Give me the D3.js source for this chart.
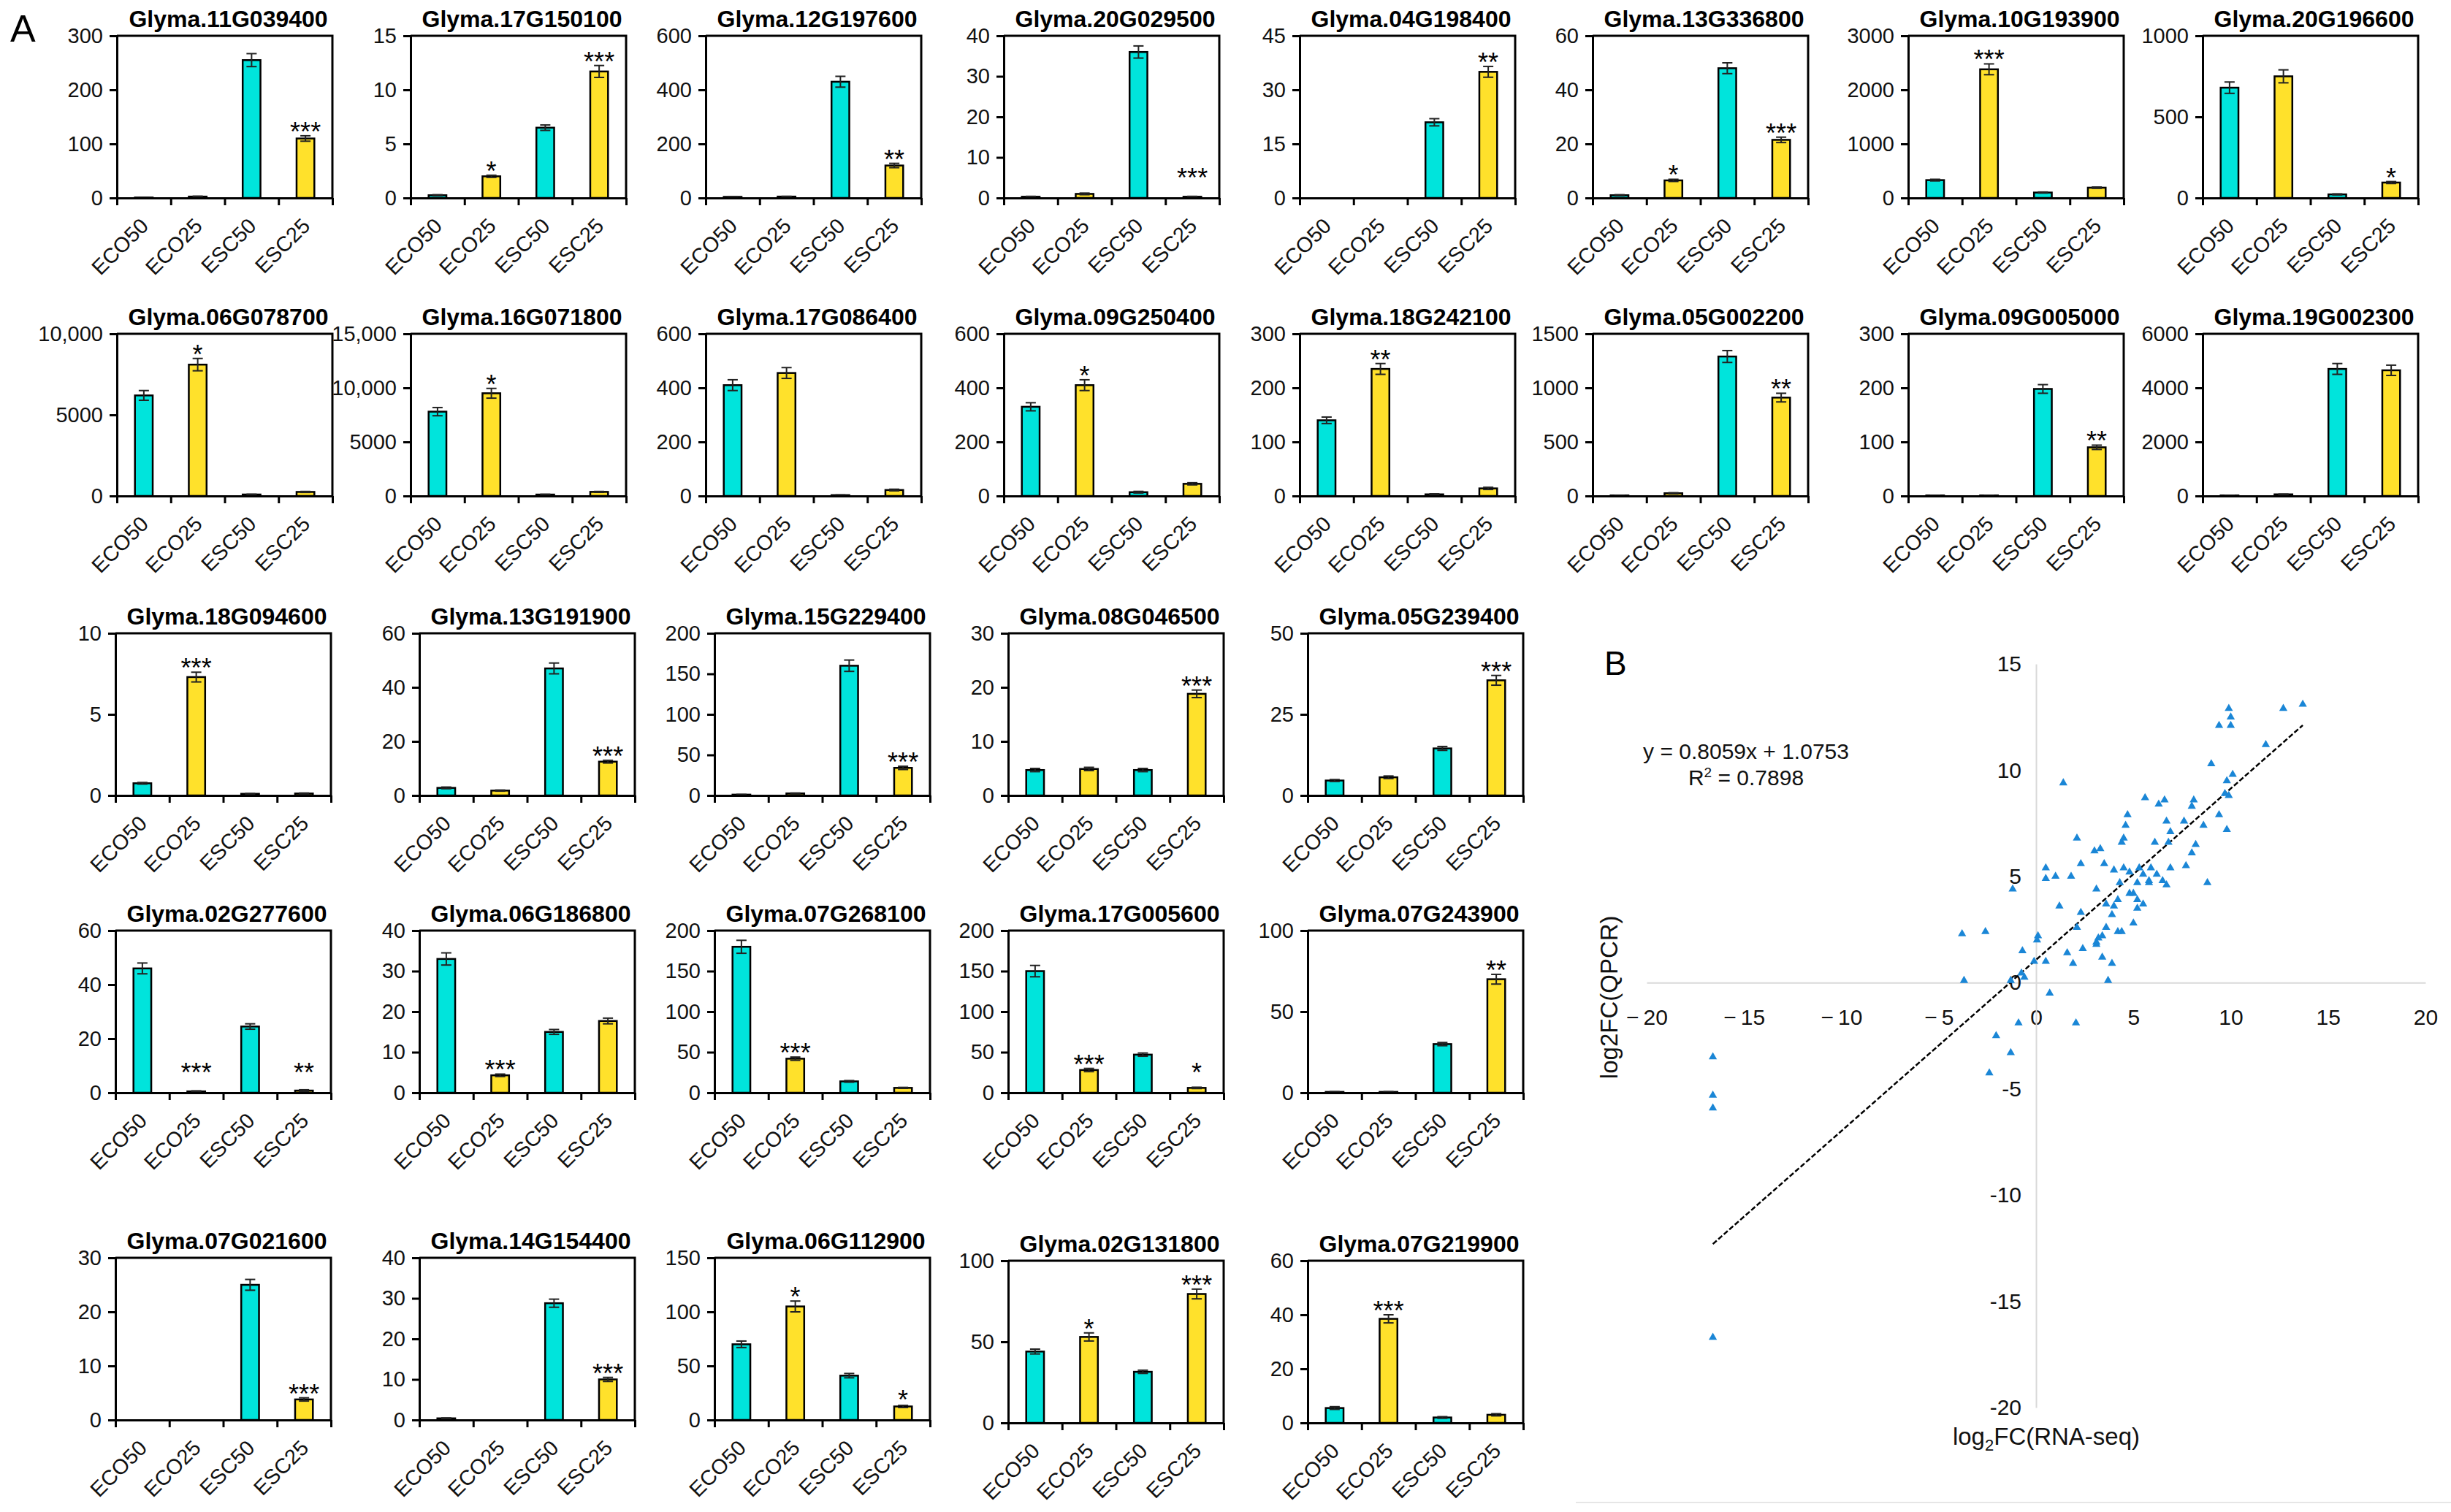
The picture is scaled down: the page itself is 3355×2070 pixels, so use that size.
<!DOCTYPE html>
<html>
<head>
<meta charset="utf-8">
<script src="https://cdn.jsdelivr.net/npm/d3@7"></script>
<style>
  body { margin: 0; background: #fff; }
  svg text { font-family: Arial, "Liberation Sans", sans-serif; }
</style>
</head>
<body>
<svg id="fig"></svg>
<script>
// ---- data ----
const conditions = ["ECO50", "ECO25", "ESC50", "ESC25"];

const genes = [
  "Glyma.11G039400", "Glyma.17G150100", "Glyma.12G197600", "Glyma.20G029500",
  "Glyma.04G198400", "Glyma.13G336800", "Glyma.10G193900", "Glyma.20G196600",
  "Glyma.06G078700", "Glyma.16G071800", "Glyma.17G086400", "Glyma.09G250400",
  "Glyma.18G242100", "Glyma.05G002200", "Glyma.09G005000", "Glyma.19G002300",
  "Glyma.18G094600", "Glyma.13G191900", "Glyma.15G229400", "Glyma.08G046500", "Glyma.05G239400",
  "Glyma.02G277600", "Glyma.06G186800", "Glyma.07G268100", "Glyma.17G005600", "Glyma.07G243900",
  "Glyma.07G021600", "Glyma.14G154400", "Glyma.06G112900", "Glyma.02G131800", "Glyma.07G219900"
];

const yMax = [300, 15, 600, 40, 45, 60, 3000, 1000,
  10000, 15000, 600, 600, 300, 1500, 300, 6000,
  10, 60, 200, 30, 50,
  60, 40, 200, 200, 100,
  30, 40, 150, 100, 60];

const yTicks = [
  [0, 100, 200, 300], [0, 5, 10, 15], [0, 200, 400, 600], [0, 10, 20, 30, 40],
  [0, 15, 30, 45], [0, 20, 40, 60], [0, 1000, 2000, 3000], [0, 500, 1000],
  [0, 5000, 10000], [0, 5000, 10000, 15000], [0, 200, 400, 600], [0, 200, 400, 600],
  [0, 100, 200, 300], [0, 500, 1000, 1500], [0, 100, 200, 300], [0, 2000, 4000, 6000],
  [0, 5, 10], [0, 20, 40, 60], [0, 50, 100, 150, 200], [0, 10, 20, 30], [0, 25, 50],
  [0, 20, 40, 60], [0, 10, 20, 30, 40], [0, 50, 100, 150, 200], [0, 50, 100, 150, 200], [0, 50, 100],
  [0, 10, 20, 30], [0, 10, 20, 30, 40], [0, 50, 100, 150], [0, 50, 100], [0, 20, 40, 60]
];

// mean expression per condition (ECO50, ECO25, ESC50, ESC25)
const means = [
  [0.8, 2.5, 255, 110], [0.25, 2.0, 6.5, 11.7], [4, 5, 430, 120], [0.3, 1.0, 36, 0.3],
  [0, 0, 21, 35], [1, 6.5, 48, 21.5], [330, 2380, 100, 190], [680, 750, 22, 95],
  [6200, 8100, 90, 250], [7800, 9500, 130, 380], [410, 455, 3, 22], [330, 410, 14, 45],
  [140, 235, 3, 14], [5, 25, 1290, 910], [1, 1, 198, 90], [20, 60, 4700, 4650],
  [0.75, 7.3, 0.1, 0.12], [2.8, 1.8, 47, 12.5], [1, 2.5, 160, 34], [4.7, 4.9, 4.7, 18.8], [4.6, 5.6, 14.5, 35.5],
  [46, 0.5, 24.5, 0.8], [33, 4.3, 15, 17.7], [180, 42, 14, 6], [150, 28, 47, 6], [0.5, 0.5, 30, 70],
  [0, 0, 25, 3.8], [0.4, 0, 28.8, 10], [70, 105, 41, 12.5], [44, 53, 31.5, 79.5], [5.5, 38.5, 2, 3]
];

const errs = [
  [0.3, 0.8, 12, 5], [0.05, 0.1, 0.25, 0.55], [1, 1, 20, 8], [0.1, 0.2, 1.5, 0.1],
  [0, 0, 1, 1.5], [0.2, 0.4, 2, 1], [15, 100, 10, 12], [35, 40, 3, 6],
  [300, 380, 20, 30], [380, 450, 30, 40], [20, 20, 1, 3], [15, 20, 3, 4],
  [6, 10, 1, 2], [2, 5, 55, 40], [0.3, 0.3, 8, 4], [5, 10, 200, 190],
  [0.05, 0.3, 0.02, 0.03], [0.3, 0.2, 2, 0.5], [0.3, 0.5, 7, 2], [0.3, 0.3, 0.3, 0.7], [0.3, 0.4, 0.6, 1.5],
  [2, 0.2, 1, 0.3], [1.5, 0.3, 0.6, 0.7], [8, 2, 1, 0.6], [7, 2, 2, 0.8], [0.2, 0.2, 1, 3],
  [0, 0, 1, 0.3], [0.1, 0, 1, 0.5], [3, 5, 2, 1], [1.5, 2.5, 1, 3], [0.5, 1.5, 0.3, 0.4]
];

const stars = [
  ["", "", "", "***"], ["", "*", "", "***"], ["", "", "", "**"], ["", "", "", "***"],
  ["", "", "", "**"], ["", "*", "", "***"], ["", "***", "", ""], ["", "", "", "*"],
  ["", "*", "", ""], ["", "*", "", ""], ["", "", "", ""], ["", "*", "", ""],
  ["", "**", "", ""], ["", "", "", "**"], ["", "", "", "**"], ["", "", "", ""],
  ["", "***", "", ""], ["", "", "", "***"], ["", "", "", "***"], ["", "", "", "***"], ["", "", "", "***"],
  ["", "***", "", "**"], ["", "***", "", ""], ["", "***", "", ""], ["", "***", "", "*"], ["", "", "", "**"],
  ["", "", "", "***"], ["", "", "", "***"], ["", "*", "", "*"], ["", "*", "", "***"], ["", "***", "", ""]
];

// panel B: log2 fold changes
const rnaSeqFC = [13.7, 12.7, 9.9, 10.0, 9.4, 10.0, 11.8, 9.0, 10.1, 9.8,
  1.4, 9.7, 9.9, 5.6, 6.6, 8.1, 6.3, 8.0, 9.4, 4.7,
  6.7, 7.6, 8.6, 4.6, 9.8, 6.9, 4.5, 2.1, 4.4, 6.1,
  6.8, 8.2, 3.3, 3.0, 8.0, 2.3, 3.5, 7.7, 0.5, 4.0,
  4.5, 5.3, 5.9, 6.9, 4.8, 5.5, 6.2, 1.8, 1.0, 0.5,
  5.8, 6.5, 8.8, 4.3, 5.2, 5.8, 6.7, -1.2, 3.1, 4.8,
  5.0, 4.2, 5.2, 5.5, 1.2, 3.6, 4.0, 5.2, 2.3, 3.9,
  5.0, 2.1, 3.6, -3.8, -2.6, 4.2, 4.4, 3.4, 0.1, 0.05,
  3.2, 3.1, 3.1, 2.4, 1.6, -0.7, 3.4, 3.9, 1.9, 0.5,
  -0.1, -0.75, -0.6, -3.7, 3.7, -1.3, 0.7, -0.9, 2.05, -2.05,
  -1.3, -2.4, -16.6, -16.6, -16.6, -16.6];
const qpcrFC = [13.1, 12.9, 12.9, 12.5, 12.1, 12.1, 11.2, 10.3, 9.8, 9.5,
  9.4, 8.9, 8.8, 8.7, 8.6, 8.6, 8.4, 8.3, 7.9, 7.9,
  7.6, 7.6, 7.4, 7.4, 7.2, 7.1, 6.8, 6.8, 6.6, 6.6,
  6.6, 6.5, 6.3, 6.2, 6.1, 5.6, 5.6, 5.5, 5.4, 5.3,
  5.4, 5.4, 5.4, 5.4, 5.2, 5.1, 5.1, 5.0, 5.0, 4.9,
  4.8, 4.8, 4.7, 4.7, 4.7, 4.7, 4.6, 4.4, 4.4, 4.2,
  4.2, 3.9, 3.9, 3.7, 3.6, 3.7, 3.6, 3.5, 3.3, 3.2,
  2.8, 2.6, 2.6, 2.3, 2.4, 2.4, 2.4, 2.2, 2.2, 2.0,
  2.1, 1.9, 1.8, 1.6, 1.4, 1.5, 1.2, 0.9, 0.9, 1.0,
  1.0, 0.45, 0.25, 0.1, 0.1, 0.1, -0.5, -1.9, -1.9, -2.5,
  -3.3, -4.25, -3.5, -5.3, -5.9, -16.7];
const fitSlope = 0.8059, fitIntercept = 1.0753;
const fitRange = [-16.6, 13.7];
const xTicksB = [-20, -15, -10, -5, 0, 5, 10, 15, 20];
const yTicksB = [-20, -15, -10, -5, 0, 5, 10, 15];

// ---- layout ----
const W = 3355, H = 2070;
const cyan = "#00e4dc", yellow = "#ffe12b";
const barColors = [cyan, yellow, cyan, yellow];
const plotW = 295, plotH = 222;
const colLeftTop = [160, 562, 966, 1374, 1779, 2180, 2612, 3015];
const colLeftBottom = [158, 574, 978, 1380, 1790];
const rowTop = [49, 457, 867, 1274, 1722];

const svg = d3.select("#fig").attr("width", W).attr("height", H);
svg.append("rect").attr("width", W).attr("height", H).attr("fill", "#fff");

const tickFmt = v => v >= 10000 ? d3.format(",")(v) : String(v);

function panelPos(i) {
  if (i < 16) return [colLeftTop[i % 8], rowTop[Math.floor(i / 8)]];
  const k = i - 16;
  const shift = (i >= 29) ? 4 : 0;   // last two panels sit a touch lower
  return [colLeftBottom[k % 5], rowTop[2 + Math.floor(k / 5)] + shift];
}

genes.forEach((gene, i) => {
  const [px, py] = panelPos(i);
  const g = svg.append("g").attr("transform", `translate(${px},${py})`);

  const x = d3.scaleBand().domain(conditions).range([0, plotW]);
  const y = d3.scaleLinear().domain([0, yMax[i]]).range([plotH, 0]);
  const edges = d3.scaleLinear().domain([0, conditions.length]).range([0, plotW]);

  // top and right frame
  g.append("path")
    .attr("d", `M0,0H${plotW}V${plotH}`)
    .attr("fill", "none").attr("stroke", "#000").attr("stroke-width", 3);

  const rows = conditions.map((c, j) => ({
    c, v: means[i][j], e: errs[i][j], s: stars[i][j], color: barColors[j]
  }));
  const bw = x.bandwidth() * 0.33;

  g.selectAll(".bar").data(rows).enter().append("rect")
    .attr("x", d => x(d.c) + (x.bandwidth() - bw) / 2)
    .attr("y", d => y(d.v))
    .attr("width", bw)
    .attr("height", d => plotH - y(d.v))
    .attr("fill", d => d.color)
    .attr("stroke", "#000").attr("stroke-width", 2.5);

  const eb = g.selectAll(".err").data(rows.filter(d => d.e > 0)).enter().append("g")
    .attr("stroke", "#222").attr("stroke-width", 2);
  eb.append("line")
    .attr("x1", d => x(d.c) + x.bandwidth() / 2).attr("x2", d => x(d.c) + x.bandwidth() / 2)
    .attr("y1", d => y(Math.max(0, d.v - d.e))).attr("y2", d => y(d.v + d.e));
  [1, -1].forEach(sg => {
    eb.append("line")
      .attr("x1", d => x(d.c) + x.bandwidth() / 2 - 7).attr("x2", d => x(d.c) + x.bandwidth() / 2 + 7)
      .attr("y1", d => y(Math.max(0, d.v + sg * d.e))).attr("y2", d => y(Math.max(0, d.v + sg * d.e)));
  });

  g.selectAll(".star").data(rows.filter(d => d.s)).enter().append("text")
    .attr("x", d => x(d.c) + x.bandwidth() / 2)
    .attr("y", d => Math.min(y(d.v + d.e) - 14, plotH - 36) + 21)
    .attr("text-anchor", "middle")
    .attr("font-size", 36)
    .text(d => d.s);

  // axes
  const ya = g.append("g").call(d3.axisLeft(y).tickValues(yTicks[i]).tickFormat(tickFmt)
    .tickSize(10).tickPadding(9));
  ya.selectAll("path, line").attr("stroke", "#000").attr("stroke-width", 3);
  ya.selectAll("text").attr("font-size", 29).attr("fill", "#111");

  const xa = g.append("g").attr("transform", `translate(0,${plotH})`)
    .call(d3.axisBottom(edges).ticks(conditions.length).tickFormat("").tickSize(10).tickSizeOuter(0));
  xa.selectAll("path, line").attr("stroke", "#000").attr("stroke-width", 3);

  g.selectAll(".xl").data(conditions).enter().append("text")
    .attr("transform", c => `translate(${x(c) + x.bandwidth() / 2 + 8},${plotH + 40}) rotate(-45)`)
    .attr("text-anchor", "end")
    .attr("font-size", 29)
    .attr("fill", "#111")
    .text(c => c);

  g.append("text")
    .attr("x", plotW / 2 + 5).attr("y", -12)
    .attr("text-anchor", "middle")
    .attr("font-size", 32).attr("font-weight", "bold")
    .text(gene);
});

svg.append("text").attr("x", 14).attr("y", 57).attr("font-size", 52).text("A");

// ---- panel B ----
const sx = d3.scaleLinear().domain([-20, 20]).range([2254, 3320]);
const sy = d3.scaleLinear().domain([-20, 15]).range([1927, 909]);
const axisGrey = "#d9d9d9";

const bx = svg.append("g").attr("transform", `translate(0,${sy(0)})`)
  .call(d3.axisBottom(sx).tickValues(xTicksB).tickSize(0).tickPadding(36)
    .tickFormat(v => v < 0 ? "\u2212\u2009" + Math.abs(v) : String(v)));
bx.select(".domain").attr("stroke", axisGrey).attr("stroke-width", 2);
bx.selectAll("text").attr("font-size", 30).attr("fill", "#111");

const by = svg.append("g").attr("transform", `translate(${sx(0)},0)`)
  .call(d3.axisLeft(sy).tickValues(yTicksB).tickSize(0).tickPadding(20)
    .tickFormat(v => String(v)));
by.select(".domain").attr("stroke", axisGrey).attr("stroke-width", 2);
by.selectAll("text").attr("font-size", 30).attr("fill", "#111");

svg.append("line")
  .attr("x1", sx(fitRange[0])).attr("y1", sy(fitSlope * fitRange[0] + fitIntercept))
  .attr("x2", sx(fitRange[1])).attr("y2", sy(fitSlope * fitRange[1] + fitIntercept))
  .attr("stroke", "#000").attr("stroke-width", 2.5).attr("stroke-dasharray", "7,3");

svg.append("g").selectAll("path").data(rnaSeqFC).enter().append("path")
  .attr("d", d3.symbol().type(d3.symbolTriangle).size(55))
  .attr("transform", (d, k) => `translate(${sx(d)},${sy(qpcrFC[k])})`)
  .attr("fill", "#1a86d6");

svg.append("text").attr("x", 2390).attr("y", 1039).attr("text-anchor", "middle")
  .attr("font-size", 30).attr("fill", "#111").text("y = 0.8059x + 1.0753");
const r2 = svg.append("text").attr("x", 2390).attr("y", 1075).attr("text-anchor", "middle")
  .attr("font-size", 30).attr("fill", "#111");
r2.append("tspan").text("R");
r2.append("tspan").attr("dy", -11).attr("font-size", 19).text("2");
r2.append("tspan").attr("dy", 11).text(" = 0.7898");

svg.append("text")
  .attr("transform", `translate(2214,${sy(0) + 20}) rotate(-90)`)
  .attr("text-anchor", "middle").attr("font-size", 33).attr("fill", "#111")
  .text("log2FC(QPCR)");

const xt = svg.append("text").attr("x", sx(0) + 14).attr("y", 1978)
  .attr("text-anchor", "middle").attr("font-size", 33).attr("fill", "#111");
xt.append("tspan").text("log");
xt.append("tspan").attr("dy", 8).attr("font-size", 22).text("2");
xt.append("tspan").attr("dy", -8).text("FC(RNA-seq)");

svg.append("line").attr("x1", 2157).attr("x2", 3355).attr("y1", 2057).attr("y2", 2057)
  .attr("stroke", "#e6e6e6").attr("stroke-width", 2);

svg.append("text").attr("x", 2196).attr("y", 924).attr("font-size", 46).text("B");
</script>
</body>
</html>
